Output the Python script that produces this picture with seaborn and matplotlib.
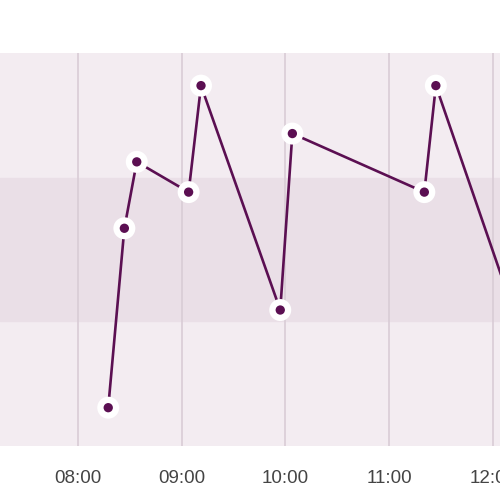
import matplotlib
matplotlib.use("Agg")
import matplotlib.pyplot as plt
import matplotlib.dates as mdates
import pandas as pd
import seaborn as sns

times = ["08:17:30", "08:26:50", "08:34:00", "09:04:00", "09:11:10",
         "09:57:00", "10:04:00", "11:20:20", "11:27:00", "12:20:00"]
values = [9.75, 55.4, 72.3, 64.6, 91.7, 34.6, 79.5, 64.6, 91.7, 24.0]
band_low, band_high = 31.8, 68.2
x_start, x_end = "07:14:54", "12:04:06"
y_min, y_max = 0, 100

day = "2024-01-01 "
df = pd.DataFrame({"time": pd.to_datetime([day + t for t in times]),
                   "value": values})

sns.set_style("white")
plt.rcParams["font.family"] = ["Liberation Sans", "DejaVu Sans"]

fig = plt.figure(figsize=(5, 5), dpi=100)
ax = fig.add_axes([0, 0.108, 1, 0.786])
ax.set_facecolor("#f3ecf1")
ax.axhspan(band_low, band_high, color="#eadfe7", zorder=0)

line_c = "#5b0f52"
sns.lineplot(data=df, x="time", y="value", ax=ax, color=line_c,
             linewidth=1.9, zorder=2)
sns.scatterplot(data=df, x="time", y="value", ax=ax, color="white",
                s=250, edgecolor="none", zorder=3)
sns.scatterplot(data=df, x="time", y="value", ax=ax, color=line_c,
                s=45, edgecolor="none", zorder=4)

ax.set_xlim(pd.Timestamp(day + x_start), pd.Timestamp(day + x_end))
ax.set_ylim(y_min, y_max)
ax.xaxis.set_major_locator(mdates.HourLocator())
ax.xaxis.set_major_formatter(mdates.DateFormatter("%H:%M"))
ax.grid(axis="x", color="#d9ccd6", linewidth=1.2, zorder=1)
ax.set_axisbelow(True)
ax.set_yticks([])
ax.tick_params(axis="x", length=0, pad=17, labelsize=13.5, labelcolor="#444444")
ax.set_xlabel("")
ax.set_ylabel("")
for s in ax.spines.values():
    s.set_visible(False)

fig.savefig("out.png", dpi=100)
